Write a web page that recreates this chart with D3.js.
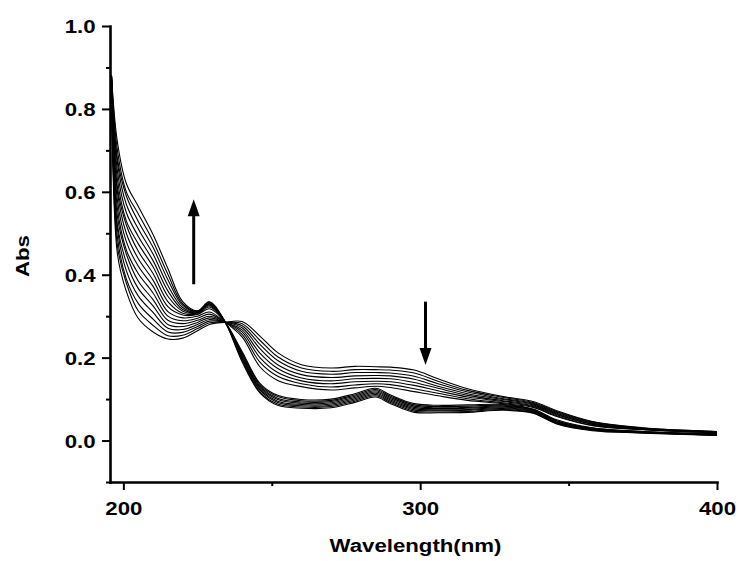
<!DOCTYPE html>
<html>
<head>
<meta charset="utf-8">
<script src="https://cdn.jsdelivr.net/npm/d3@7/dist/d3.min.js"></script>
<style>
    body { margin: 0; background: #fff; }
    svg text { font-family: "Liberation Sans", Arial, sans-serif; font-weight: bold; fill: #000; }
</style>
</head>
<body>
<div id="chart-area"></div>
<script>
// wavelength grid (nm)
const wavelengths = [196, 198, 201, 205, 210, 215, 220, 225, 229, 234, 240, 246, 252, 260,
    270, 278, 285, 290, 298, 306, 316, 328, 338, 346, 358, 375, 400];

// absorbance, one row per wavelength, 16 scans per row (first scan -> last scan)
const absorbance = [
    [0.87, 0.87, 0.87, 0.87, 0.87, 0.87, 0.87, 0.87, 0.88, 0.88, 0.88, 0.88, 0.88, 0.88, 0.88, 0.88],
    [0.45, 0.47, 0.49, 0.51, 0.52, 0.54, 0.56, 0.58, 0.60, 0.61, 0.63, 0.65, 0.67, 0.68, 0.70, 0.72],
    [0.36, 0.38, 0.39, 0.41, 0.43, 0.45, 0.46, 0.48, 0.50, 0.52, 0.53, 0.55, 0.57, 0.59, 0.60, 0.62],
    [0.295, 0.313, 0.331, 0.349, 0.367, 0.385, 0.403, 0.421, 0.439, 0.457, 0.475, 0.493, 0.511, 0.529, 0.547, 0.565],
    [0.262, 0.278, 0.293, 0.309, 0.325, 0.340, 0.356, 0.372, 0.387, 0.403, 0.419, 0.434, 0.450, 0.466, 0.481, 0.497],
    [0.245, 0.253, 0.262, 0.271, 0.280, 0.290, 0.300, 0.311, 0.323, 0.335, 0.348, 0.361, 0.374, 0.388, 0.401, 0.415],
    [0.247, 0.254, 0.261, 0.268, 0.275, 0.282, 0.289, 0.296, 0.303, 0.307, 0.312, 0.316, 0.321, 0.326, 0.330, 0.335],
    [0.265, 0.270, 0.275, 0.280, 0.285, 0.290, 0.295, 0.300, 0.304, 0.306, 0.308, 0.309, 0.310, 0.311, 0.312, 0.313],
    [0.280, 0.284, 0.288, 0.292, 0.296, 0.300, 0.305, 0.310, 0.318, 0.322, 0.325, 0.327, 0.329, 0.331, 0.333, 0.335],
    [0.285, 0.285, 0.286, 0.286, 0.286, 0.287, 0.287, 0.287, 0.288, 0.288, 0.288, 0.289, 0.289, 0.289, 0.290, 0.290],
    [0.287, 0.282, 0.277, 0.272, 0.267, 0.262, 0.256, 0.250, 0.215, 0.211, 0.208, 0.204, 0.201, 0.197, 0.194, 0.190],
    [0.252, 0.242, 0.232, 0.222, 0.211, 0.200, 0.189, 0.178, 0.138, 0.135, 0.131, 0.128, 0.125, 0.122, 0.118, 0.115],
    [0.212, 0.202, 0.193, 0.183, 0.174, 0.164, 0.155, 0.145, 0.109, 0.106, 0.102, 0.099, 0.095, 0.092, 0.088, 0.085],
    [0.183, 0.175, 0.167, 0.159, 0.151, 0.144, 0.137, 0.130, 0.099, 0.096, 0.093, 0.090, 0.087, 0.084, 0.081, 0.078],
    [0.175, 0.167, 0.160, 0.152, 0.144, 0.137, 0.129, 0.122, 0.100, 0.097, 0.094, 0.091, 0.088, 0.085, 0.082, 0.079],
    [0.179, 0.171, 0.164, 0.156, 0.149, 0.142, 0.134, 0.127, 0.113, 0.110, 0.107, 0.104, 0.101, 0.098, 0.095, 0.092],
    [0.178, 0.171, 0.164, 0.157, 0.150, 0.143, 0.137, 0.131, 0.126, 0.123, 0.120, 0.117, 0.114, 0.111, 0.108, 0.105],
    [0.177, 0.170, 0.163, 0.156, 0.149, 0.142, 0.135, 0.128, 0.110, 0.107, 0.104, 0.101, 0.098, 0.095, 0.092, 0.089],
    [0.170, 0.163, 0.155, 0.148, 0.140, 0.133, 0.125, 0.118, 0.089, 0.086, 0.083, 0.080, 0.077, 0.074, 0.071, 0.068],
    [0.149, 0.143, 0.137, 0.131, 0.126, 0.120, 0.114, 0.108, 0.085, 0.082, 0.079, 0.077, 0.074, 0.072, 0.069, 0.067],
    [0.125, 0.121, 0.117, 0.113, 0.109, 0.105, 0.101, 0.097, 0.086, 0.083, 0.080, 0.078, 0.075, 0.073, 0.070, 0.068],
    [0.106, 0.104, 0.101, 0.099, 0.096, 0.094, 0.091, 0.089, 0.087, 0.085, 0.083, 0.081, 0.079, 0.077, 0.075, 0.073],
    [0.094, 0.092, 0.090, 0.088, 0.086, 0.084, 0.082, 0.080, 0.076, 0.075, 0.073, 0.072, 0.070, 0.069, 0.067, 0.066],
    [0.072, 0.070, 0.068, 0.066, 0.064, 0.062, 0.060, 0.058, 0.050, 0.048, 0.047, 0.045, 0.044, 0.042, 0.041, 0.040],
    [0.046, 0.045, 0.043, 0.042, 0.040, 0.039, 0.037, 0.036, 0.031, 0.030, 0.029, 0.028, 0.027, 0.026, 0.025, 0.024],
    [0.031, 0.030, 0.029, 0.029, 0.028, 0.027, 0.027, 0.026, 0.022, 0.021, 0.021, 0.020, 0.020, 0.019, 0.019, 0.018],
    [0.022, 0.022, 0.021, 0.021, 0.020, 0.020, 0.019, 0.019, 0.016, 0.016, 0.015, 0.015, 0.014, 0.013, 0.013, 0.012]
];

const xTicks = [200, 300, 400];
const xMinorTicks = [250, 350];
const yTicks = [0, 0.2, 0.4, 0.6, 0.8, 1.0];
const yMinorTicks = [-0.1, 0.1, 0.3, 0.5, 0.7, 0.9];

// trend arrows: wavelength, start and end absorbance
const arrows = [
    { x: 223.7, from: 0.377, to: 0.582 },
    { x: 301.8, from: 0.335, to: 0.182 }
];

const config = {
    width: 739,
    height: 561,
    margin: { left: 110, right: 22, top: 26, bottom: 79 },
    stretch: 1.17   // labels in the original are drawn a bit wide
};
config.chartWidth = config.width - config.margin.left - config.margin.right;
config.chartHeight = config.height - config.margin.top - config.margin.bottom;

const svg = d3.select('#chart-area')
    .append('svg')
    .attr('width', config.width)
    .attr('height', config.height);

const g = svg.append('g')
    .attr('transform', `translate(${config.margin.left}, ${config.margin.top})`);

const xScale = d3.scaleLinear()
    .domain([195.5, 400])
    .range([0, config.chartWidth]);

const yScale = d3.scaleLinear()
    .domain([-0.1, 1.0])
    .range([config.chartHeight, 0]);

// spectra
const series = d3.transpose(absorbance);

const line = d3.line()
    .x((d, i) => xScale(wavelengths[i]))
    .y(d => yScale(d))
    .curve(d3.curveCatmullRom.alpha(0.5));

g.append('g')
    .selectAll('path')
    .data(series)
    .enter().append('path')
    .attr('d', line)
    .attr('fill', 'none')
    .attr('stroke', '#000')
    .attr('stroke-width', 1.1);

// axes
const xAxisGroup = g.append('g')
    .attr('transform', `translate(0, ${config.chartHeight})`)
    .call(d3.axisBottom(xScale).tickValues(xTicks).tickSize(8).tickSizeOuter(0).tickFormat(d3.format('d')));

g.append('g')
    .attr('transform', `translate(0, ${config.chartHeight})`)
    .call(d3.axisBottom(xScale).tickValues(xMinorTicks).tickSize(4).tickFormat(''))
    .select('.domain').remove();

const yAxisGroup = g.append('g')
    .call(d3.axisLeft(yScale).tickValues(yTicks).tickSize(8).tickSizeOuter(0).tickFormat(d3.format('.1f')));

g.append('g')
    .call(d3.axisLeft(yScale).tickValues(yMinorTicks).tickSize(4).tickFormat(''))
    .select('.domain').remove();

g.selectAll('.domain')
    .attr('stroke', '#000')
    .attr('stroke-width', 2.6)
    .attr('stroke-linecap', 'square');
g.selectAll('.tick line')
    .attr('stroke', '#000')
    .attr('stroke-width', 2);

xAxisGroup.selectAll('text')
    .attr('y', 33)
    .attr('dy', null)
    .attr('font-size', '19px')
    .attr('transform', `scale(${config.stretch}, 1)`);

yAxisGroup.selectAll('text')
    .attr('x', -14.5 / config.stretch)
    .attr('dy', '0.36em')
    .attr('font-size', '19px')
    .attr('transform', `scale(${config.stretch}, 1)`);

// axis titles
svg.append('text')
    .attr('text-anchor', 'middle')
    .attr('font-size', '19px')
    .attr('transform', `translate(${config.margin.left + config.chartWidth / 2 + 2}, 552) scale(${config.stretch}, 1)`)
    .text('Wavelength(nm)');

svg.append('text')
    .attr('text-anchor', 'middle')
    .attr('font-size', '19px')
    .attr('transform', `translate(29, ${config.margin.top + config.chartHeight / 2 + 2}) rotate(-90) scale(${config.stretch}, 1)`)
    .text('Abs');

// arrows
const headLen = 17, headHalf = 6;
arrows.forEach(a => {
    const x = xScale(a.x);
    const y1 = yScale(a.from);
    const y2 = yScale(a.to);
    const dir = y2 > y1 ? 1 : -1;
    g.append('line')
        .attr('x1', x).attr('x2', x)
        .attr('y1', y1).attr('y2', y2 - dir * (headLen - 2))
        .attr('stroke', '#000')
        .attr('stroke-width', 3);
    g.append('path')
        .attr('d', `M${x},${y2} L${x - headHalf},${y2 - dir * headLen} L${x + headHalf},${y2 - dir * headLen} Z`)
        .attr('fill', '#000');
});
</script>
</body>
</html>
